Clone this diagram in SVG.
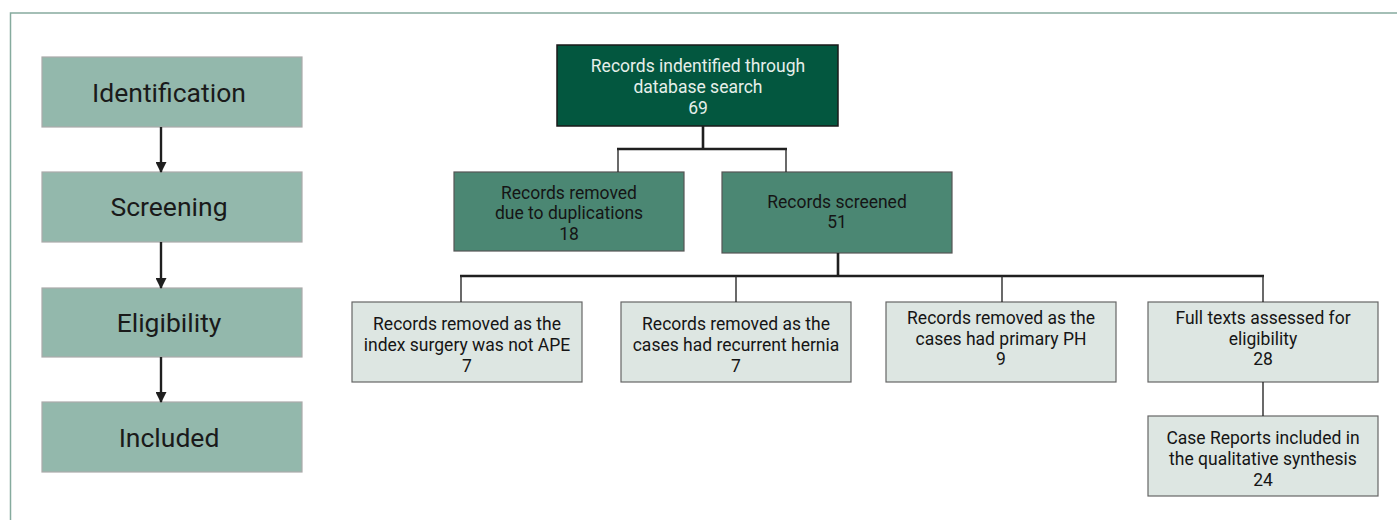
<svg xmlns="http://www.w3.org/2000/svg" width="1397" height="520" viewBox="0 0 1397 520">
<defs>
<marker id="arr" markerWidth="11" markerHeight="11" refX="10" refY="5.5" orient="auto" markerUnits="userSpaceOnUse">
<path d="M0,0 L11,5.5 L0,11 Z" fill="#1f1f1f"/>
</marker>
<style>
.stage rect{fill:#93b8ac;stroke:#aaaaaa;stroke-width:1.2}
.stage text{font-family:Roboto,"Liberation Sans",sans-serif;font-size:26.5px;fill:#1a1a1a;text-anchor:middle}
.top rect{fill:#03573f;stroke:#1a1a1a;stroke-width:1.5}
.top text{font-family:Roboto,"Liberation Sans",sans-serif;font-size:17.5px;fill:#e6efea;text-anchor:middle}
.mid rect{fill:#4b8773;stroke:#555555;stroke-width:1.2}
.mid text{font-family:Roboto,"Liberation Sans",sans-serif;font-size:17.5px;fill:#151515;text-anchor:middle}
.low rect{fill:#dde6e2;stroke:#666666;stroke-width:1.2}
.low text{font-family:Roboto,"Liberation Sans",sans-serif;font-size:17.5px;fill:#151515;text-anchor:middle}
.thick{stroke:#1f1f1f;stroke-width:2.6;fill:none}
.thin{stroke:#2a2a2a;stroke-width:1.4;fill:none}
.arrow{stroke:#1f1f1f;stroke-width:2.4;fill:none;marker-end:url(#arr)}
</style>
</defs>
<rect x="0" y="0" width="1397" height="520" fill="#ffffff"/>
<rect x="10.5" y="13" width="1400" height="530" fill="none" stroke="#86ab9e" stroke-width="1.5"/>

<g id="identification" class="stage"><rect x="42" y="57" width="260" height="70"/><text x="169" y="101.5">Identification</text></g>
<g id="screening" class="stage"><rect x="42" y="172" width="260" height="70"/><text x="169" y="216">Screening</text></g>
<g id="eligibility" class="stage"><rect x="42" y="288" width="260" height="69"/><text x="169" y="332">Eligibility</text></g>
<g id="included" class="stage"><rect x="42" y="402" width="260" height="70"/><text x="169" y="447">Included</text></g>

<g id="records-identified" class="top"><rect x="557" y="45" width="281" height="81"/>
<text x="698" y="72">Records indentified through</text><text x="698" y="93">database search</text><text x="698" y="114">69</text></g>

<g id="removed-duplicates" class="mid"><rect x="454" y="172" width="230" height="79"/>
<text x="569" y="199">Records removed</text><text x="569" y="219">due to duplications</text><text x="569" y="240">18</text></g>

<g id="records-screened" class="mid"><rect x="722" y="172" width="230" height="81"/>
<text x="837" y="208">Records screened</text><text x="837" y="228">51</text></g>

<g id="removed-not-ape" class="low"><rect x="352" y="302" width="230" height="80"/>
<text x="467" y="330">Records removed as the</text><text x="467" y="351">index surgery was not APE</text><text x="467" y="372">7</text></g>

<g id="removed-recurrent" class="low"><rect x="621" y="302" width="230" height="80"/>
<text x="736" y="330">Records removed as the</text><text x="736" y="351">cases had recurrent hernia</text><text x="736" y="372">7</text></g>

<g id="removed-primary" class="low"><rect x="886" y="302" width="230" height="80"/>
<text x="1001" y="324">Records removed as the</text><text x="1001" y="345">cases had primary PH</text><text x="1001" y="365">9</text></g>

<g id="full-texts" class="low"><rect x="1148" y="302" width="230" height="80"/>
<text x="1263" y="324">Full texts assessed for</text><text x="1263" y="345">eligibility</text><text x="1263" y="365">28</text></g>

<g id="case-reports" class="low"><rect x="1148" y="416" width="230" height="80"/>
<text x="1263" y="444">Case Reports included in</text><text x="1263" y="465">the qualitative synthesis</text><text x="1263" y="486">24</text></g>

<g id="connectors">
<line class="arrow" x1="161" y1="127" x2="161" y2="172"/>
<line class="arrow" x1="161" y1="242" x2="161" y2="288"/>
<line class="arrow" x1="161" y1="357" x2="161" y2="402"/>
<line class="thick" x1="703" y1="126" x2="703" y2="149"/>
<line class="thick" x1="617" y1="149" x2="787" y2="149"/>
<line class="thin" x1="618" y1="149" x2="618" y2="172"/>
<line class="thin" x1="786" y1="149" x2="786" y2="172"/>
<line class="thick" x1="838" y1="253" x2="838" y2="276"/>
<line class="thick" x1="460" y1="276" x2="1264" y2="276"/>
<line class="thin" x1="461" y1="276" x2="461" y2="302"/>
<line class="thin" x1="736" y1="276" x2="736" y2="302"/>
<line class="thin" x1="1002" y1="276" x2="1002" y2="302"/>
<line class="thin" x1="1263" y1="276" x2="1263" y2="302"/>
<line class="thin" x1="1263" y1="382" x2="1263" y2="416"/>
</g>
</svg>
